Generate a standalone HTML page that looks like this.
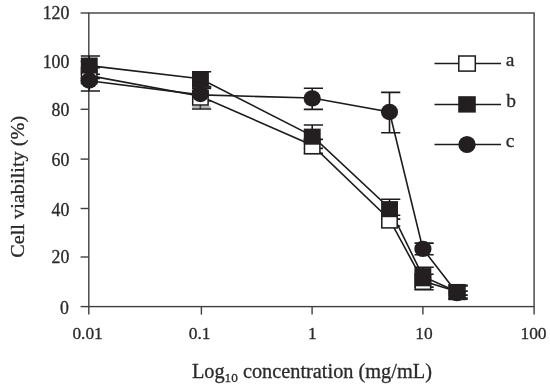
<!DOCTYPE html>
<html><head><meta charset="utf-8"><title>Cell viability</title>
<style>html,body{margin:0;padding:0;background:#fff;width:550px;height:390px;overflow:hidden}</style></head>
<body>
<svg width="550" height="390" viewBox="0 0 550 390" style="display:block;position:absolute;left:0;top:0;filter:blur(0.35px)">
<rect width="550" height="390" fill="#fff"/>
<g stroke="#3f3f3f" stroke-width="1.4" fill="none">
<rect x="88.8" y="13.0" width="445.3" height="293.6"/>
<line x1="80.6" y1="306.6" x2="88.8" y2="306.6"/>
<line x1="80.6" y1="257.0" x2="88.8" y2="257.0"/>
<line x1="80.6" y1="208.5" x2="88.8" y2="208.5"/>
<line x1="80.6" y1="159.1" x2="88.8" y2="159.1"/>
<line x1="80.6" y1="109.3" x2="88.8" y2="109.3"/>
<line x1="80.6" y1="61.5" x2="88.8" y2="61.5"/>
<line x1="80.6" y1="13.0" x2="88.8" y2="13.0"/>
<line x1="88.8" y1="306.6" x2="88.8" y2="314.6"/>
<line x1="201.4" y1="306.6" x2="201.4" y2="314.6"/>
<line x1="312.1" y1="306.6" x2="312.1" y2="314.6"/>
<line x1="422.9" y1="306.6" x2="422.9" y2="314.6"/>
<line x1="534.1" y1="306.6" x2="534.1" y2="314.6"/>
</g>
<g font-family="'Liberation Serif', 'Times New Roman', serif" font-size="17.8" fill="#2a2a2a" stroke="#2a2a2a" stroke-width="0.3">
<text x="68.8" y="313.6" text-anchor="end">0</text>
<text x="69.4" y="263.0" text-anchor="end">20</text>
<text x="69.4" y="215.7" text-anchor="end">40</text>
<text x="69.4" y="166.4" text-anchor="end">60</text>
<text x="69.4" y="116.3" text-anchor="end">80</text>
<text x="69.4" y="68.1" text-anchor="end">100</text>
<text x="69.4" y="18.7" text-anchor="end">120</text>
<text x="87.6" y="339.4" font-size="17.4" text-anchor="middle">0.01</text>
<text x="199.7" y="339.4" font-size="17.4" text-anchor="middle">0.1</text>
<text x="312.3" y="339.4" font-size="17.4" text-anchor="middle">1</text>
<text x="424.0" y="339.4" font-size="17.4" text-anchor="middle">10</text>
<text x="533.5" y="339.4" font-size="17.4" text-anchor="middle">100</text>
<g font-size="19.5"><text x="505.8" y="65.8">a</text><text x="506.2" y="106.8">b</text><text x="505.8" y="146.9">c</text></g>
</g>
<g font-family="'Liberation Serif', 'Times New Roman', serif" font-size="20" fill="#2a2a2a" stroke="#2a2a2a" stroke-width="0.3">
<text x="191.9" y="378.2" textLength="240" lengthAdjust="spacingAndGlyphs">Log<tspan font-size="13" dy="4">10</tspan><tspan dy="-4"> concentration (mg/mL)</tspan></text>
<text transform="translate(23.9,257.8) rotate(-90)" font-size="19.2" textLength="142" lengthAdjust="spacingAndGlyphs">Cell viability (%)</text>
</g>
<path d="M89.2,74.2V78.2M80.8,74.2h19.2M80.8,78.2h19.2" stroke="#1c1c1c" stroke-width="1.6" fill="none"/>
<path d="M200.4,88.5V109.0M192.0,88.5h19.2M192.0,109.0h19.2" stroke="#1c1c1c" stroke-width="1.6" fill="none"/>
<path d="M312.2,139.4V153.4M303.8,139.4h19.2M303.8,153.4h19.2" stroke="#1c1c1c" stroke-width="1.6" fill="none"/>
<path d="M389.5,215.2V226.0M381.1,215.2h19.2M381.1,226.0h19.2" stroke="#1c1c1c" stroke-width="1.6" fill="none"/>
<path d="M422.9,274.2V289.8M414.5,274.2h19.2M414.5,289.8h19.2" stroke="#1c1c1c" stroke-width="1.6" fill="none"/>
<path d="M457.0,286.0V298.0M448.6,286.0h19.2M448.6,298.0h19.2" stroke="#1c1c1c" stroke-width="1.6" fill="none"/>
<path d="M89.2,56.0V67.6M80.8,56.0h19.2M80.8,67.6h19.2" stroke="#1c1c1c" stroke-width="1.6" fill="none"/>
<path d="M200.4,71.8V86.6M192.0,71.8h19.2M192.0,86.6h19.2" stroke="#1c1c1c" stroke-width="1.6" fill="none"/>
<path d="M312.2,125.0V148.4M303.8,125.0h19.2M303.8,148.4h19.2" stroke="#1c1c1c" stroke-width="1.6" fill="none"/>
<path d="M389.5,199.3V219.1M381.1,199.3h19.2M381.1,219.1h19.2" stroke="#1c1c1c" stroke-width="1.6" fill="none"/>
<path d="M422.9,267.3V287.1M414.5,267.3h19.2M414.5,287.1h19.2" stroke="#1c1c1c" stroke-width="1.6" fill="none"/>
<path d="M457.0,285.2V299.2M448.6,285.2h19.2M448.6,299.2h19.2" stroke="#1c1c1c" stroke-width="1.6" fill="none"/>
<path d="M89.2,78.5V91.0M80.8,78.5h19.2M80.8,91.0h19.2" stroke="#1c1c1c" stroke-width="1.6" fill="none"/>
<path d="M200.4,87.0V101.0M192.0,87.0h19.2M192.0,101.0h19.2" stroke="#1c1c1c" stroke-width="1.6" fill="none"/>
<path d="M312.2,88.2V109.4M303.8,88.2h19.2M303.8,109.4h19.2" stroke="#1c1c1c" stroke-width="1.6" fill="none"/>
<path d="M389.5,92.4V132.8M381.1,92.4h19.2M381.1,132.8h19.2" stroke="#1c1c1c" stroke-width="1.6" fill="none"/>
<path d="M422.9,243.1V254.7M414.5,243.1h19.2M414.5,254.7h19.2" stroke="#1c1c1c" stroke-width="1.6" fill="none"/>
<path d="M457.0,291.1V295.1M448.6,291.1h19.2M448.6,295.1h19.2" stroke="#1c1c1c" stroke-width="1.6" fill="none"/>
<path d="M192.2,107h18.2" stroke="#6a6a6a" stroke-width="1" fill="none"/>
<polyline points="89.2,75.6 200.4,96.2 312.2,145.2 389.5,219.4 422.9,281.0 457.0,291.5" fill="none" stroke="#1c1c1c" stroke-width="1.6"/>
<polyline points="89.2,65.6 200.4,78.8 312.2,135.9 389.5,208.2 422.9,276.4 457.0,291.8" fill="none" stroke="#1c1c1c" stroke-width="1.6"/>
<polyline points="89.2,80.8 200.4,94.9 312.2,98.0 389.5,112.0 422.9,248.9 457.0,293.1" fill="none" stroke="#1c1c1c" stroke-width="1.6"/>
<rect x="81.5" y="68.9" width="15.4" height="14.6" fill="#fff" stroke="#1c1c1c" stroke-width="1.5"/>
<rect x="192.7" y="90.4" width="15.4" height="14.6" fill="#fff" stroke="#1c1c1c" stroke-width="1.5"/>
<rect x="304.5" y="139.1" width="15.4" height="14.6" fill="#fff" stroke="#1c1c1c" stroke-width="1.5"/>
<rect x="381.8" y="213.3" width="15.4" height="14.6" fill="#fff" stroke="#1c1c1c" stroke-width="1.5"/>
<rect x="415.2" y="274.7" width="15.4" height="14.6" fill="#fff" stroke="#1c1c1c" stroke-width="1.5"/>
<rect x="449.3" y="284.7" width="15.4" height="14.6" fill="#fff" stroke="#1c1c1c" stroke-width="1.5"/>
<rect x="80.8" y="57.5" width="16.9" height="16.1" fill="#231f20"/>
<rect x="192.0" y="71.2" width="16.9" height="16.1" fill="#231f20"/>
<rect x="303.8" y="128.6" width="16.9" height="16.1" fill="#231f20"/>
<rect x="381.1" y="201.1" width="16.9" height="16.1" fill="#231f20"/>
<rect x="414.4" y="268.1" width="16.9" height="18.2" fill="#231f20"/>
<rect x="448.6" y="284.1" width="16.9" height="16.1" fill="#231f20"/>
<ellipse cx="89.2" cy="80.5" rx="8.6" ry="8.2" fill="#231f20"/>
<ellipse cx="200.4" cy="94.0" rx="8.6" ry="8.2" fill="#231f20"/>
<ellipse cx="312.2" cy="98.4" rx="8.6" ry="8.2" fill="#231f20"/>
<ellipse cx="389.5" cy="112.0" rx="8.6" ry="8.2" fill="#231f20"/>
<ellipse cx="422.9" cy="248.9" rx="8.6" ry="8.2" fill="#231f20"/>
<ellipse cx="457.0" cy="293.1" rx="8.6" ry="8.2" fill="#231f20"/>
<line x1="434.5" y1="63.5" x2="501.0" y2="63.5" stroke="#1c1c1c" stroke-width="1.5"/>
<rect x="458.8" y="56.0" width="16.5" height="15.1" fill="#fff" stroke="#1c1c1c" stroke-width="1.5"/>
<line x1="434.5" y1="104.4" x2="501.0" y2="104.4" stroke="#1c1c1c" stroke-width="1.5"/>
<rect x="458.2" y="96.2" width="17.6" height="16.4" fill="#231f20"/>
<line x1="434.5" y1="144.5" x2="501.0" y2="144.5" stroke="#1c1c1c" stroke-width="1.5"/>
<ellipse cx="467.0" cy="144.5" rx="8.7" ry="8.6" fill="#231f20"/>
</svg>
</body></html>
